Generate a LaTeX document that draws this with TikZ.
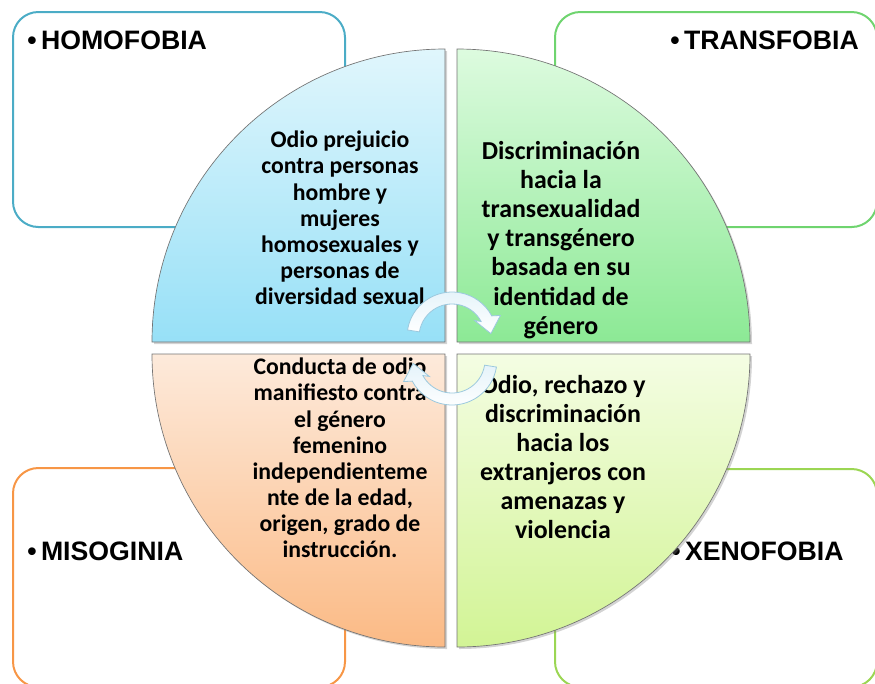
\documentclass[tikz,border=0pt]{standalone}
\usepackage{fontspec}
\setmainfont{Carlito}
\newfontfamily\headfont{Liberation Sans}
\usetikzlibrary{shadows}

\definecolor{homoline}{HTML}{4BACC6}
\definecolor{transline}{HTML}{6FD46F}
\definecolor{misoline}{HTML}{F79646}
\definecolor{xenoline}{HTML}{9BD653}
\definecolor{homotop}{HTML}{E0F6FC}
\definecolor{homobot}{HTML}{97E0F7}
\definecolor{transtop}{HTML}{DDFBDF}
\definecolor{transbot}{HTML}{8CE995}
\definecolor{misotop}{HTML}{FDEADB}
\definecolor{misobot}{HTML}{FBBA85}
\definecolor{xenotop}{HTML}{F4FDE3}
\definecolor{xenobot}{HTML}{D2F495}
\definecolor{arrowline}{HTML}{9CC9DE}
\definecolor{arrowfill}{HTML}{E4F3FA}

\begin{document}
\begin{tikzpicture}[x=0.75pt,y=0.75pt,
cornerbox/.style={line width=1.5pt,rounded corners=19pt},
heading/.style={anchor=west,inner sep=0pt,font=\headfont\bfseries\fontsize{20}{24}\selectfont},
quad/.style={draw=black!55,line width=0.5pt,
  drop shadow={opacity=0.35,shadow xshift=1.5pt,shadow yshift=-1.5pt}},
quadtext/.style={align=center,inner sep=0pt,font=\bfseries\fontsize{17.8}{19.6}\selectfont},
bigtext/.style={quadtext,font=\bfseries\fontsize{19.4}{21.8}\selectfont},
cyclearrow/.style={draw=arrowline,line width=0.6pt,top color=arrowfill,bottom color=white}]
\useasboundingbox (0,0) rectangle (875,-683);

% corner boxes
\draw[cornerbox,homoline] (13,-12) rectangle (345,-227);
\draw[cornerbox,transline] (555,-12) rectangle (877,-227);
\draw[cornerbox,misoline] (13,-468) rectangle (345,-687);
\draw[cornerbox,xenoline] (555,-469) rectangle (877,-687);

\node[heading] (homohead) at (27,-40) {\textbullet\,HOMOFOBIA};
\node[heading] (transhead) at (670,-40) {\textbullet\,TRANSFOBIA};
\node[heading] (misohead) at (27,-551) {\textbullet\,MISOGINIA};
\node[heading] (xenohead) at (671,-551) {\textbullet\,XENOFOBIA};

% quadrants
\path[quad,top color=homotop,bottom color=homobot]
  (445,-342) -- ++(-293,0) arc[start angle=180,end angle=90,radius=293] -- cycle;
\path[quad,top color=transtop,bottom color=transbot]
  (457,-342) -- ++(0,293) arc[start angle=90,end angle=0,radius=293] -- cycle;
\path[quad,top color=misotop,bottom color=misobot]
  (445,-354) -- ++(-293,0) arc[start angle=180,end angle=270,radius=293] -- cycle;
\path[quad,top color=xenotop,bottom color=xenobot]
  (457,-354) -- ++(293,0) arc[start angle=0,end angle=-90,radius=293] -- cycle;

\node[quadtext] (homotext) at (340,-218) {Odio prejuicio\\contra personas\\hombre y\\mujeres\\homosexuales y\\personas de\\diversidad sexual};
\node[bigtext] (transtext) at (561,-240) {Discriminación\\hacia la\\transexualidad\\y transgénero\\basada en su\\identidad de\\género};
\node[quadtext] (misotext) at (340,-458) {Conducta de odio\\manifiesto contra\\el género\\femenino\\independienteme\\nte de la edad,\\origen, grado de\\instrucción.};
\node[bigtext] (xenotext) at (563,-457) {Odio, rechazo y\\discriminación\\hacia los\\extranjeros con\\amenazas y\\violencia};

% cycle arrows
\begin{scope}[shift={(452,-337)}]
\path[cyclearrow] (171:45) arc[start angle=171,end angle=28,radius=45]
  -- (24:53) -- (5:39) -- (36:28) -- (28:33)
  arc[start angle=28,end angle=171,radius=33] -- cycle;
\end{scope}
\begin{scope}[shift={(452,-360)},rotate=180]
\path[cyclearrow] (171:45) arc[start angle=171,end angle=28,radius=45]
  -- (24:53) -- (5:39) -- (36:28) -- (28:33)
  arc[start angle=28,end angle=171,radius=33] -- cycle;
\end{scope}

\end{tikzpicture}
\end{document}
